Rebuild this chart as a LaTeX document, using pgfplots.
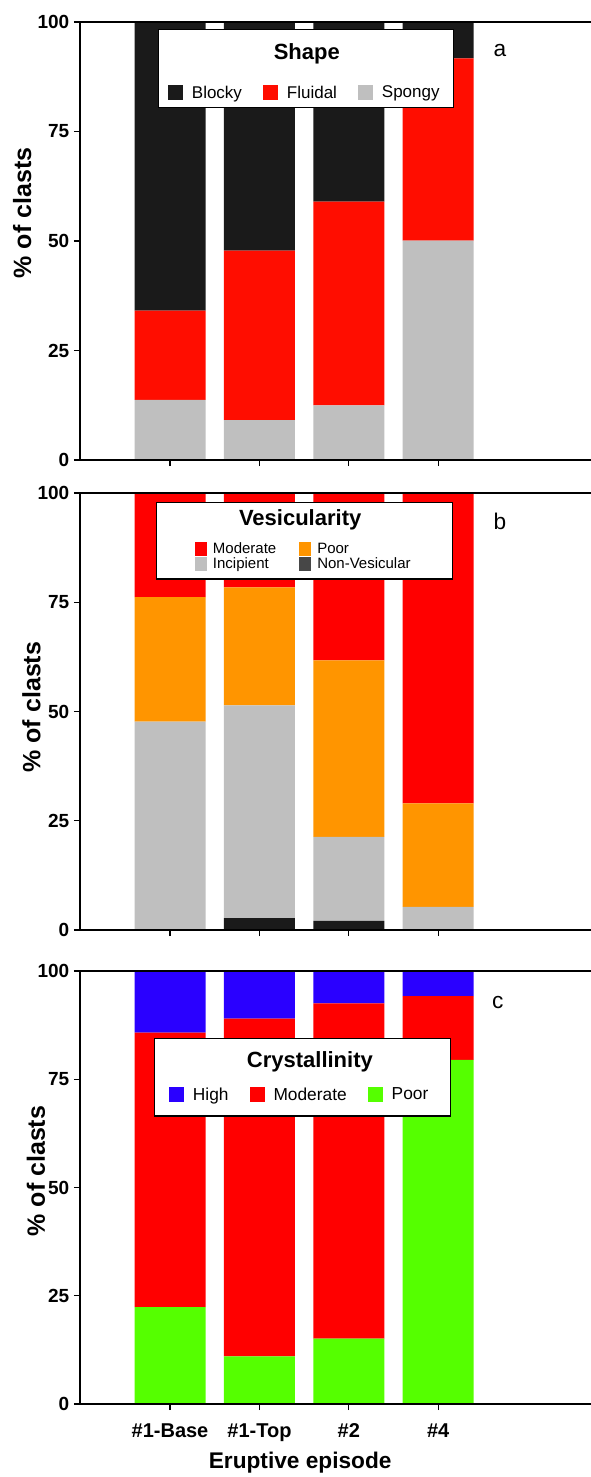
\documentclass[border=0pt]{standalone}
\usepackage{pgfplots}
\pgfplotsset{compat=1.18}
\usepackage{fontspec}
\setmainfont{Liberation Sans}
\definecolor{blocky}{HTML}{1A1A1A}
\definecolor{fluidal}{HTML}{FF0D00}
\definecolor{spongy}{HTML}{BFBFBF}
\definecolor{moder}{HTML}{FF0000}
\definecolor{poor}{HTML}{FF9500}
\definecolor{nonves}{HTML}{1A1A1A}
\definecolor{nonvesleg}{HTML}{474747}
\definecolor{high}{HTML}{2A00FF}
\definecolor{pgreen}{HTML}{55FF00}
\pgfplotsset{
  panel/.style={
    scale only axis, width=384pt,
    xmin=-0.007, xmax=5.72, ymin=0, ymax=100,
    ybar stacked, bar width=0.794, bar shift=0pt,
    xtick={1,2,3,4}, ytick={0,25,50,75,100},
    tick pos=left, tick align=outside, major tick length=4.5pt,
    axis line style={line width=0.8pt}, tick style={line width=0.8pt, black},
    /pgf/number format/assume math mode=true,
    yticklabel style={font=\bfseries\fontsize{14.25}{16}\selectfont},
    xticklabel style={font=\bfseries\fontsize{15}{17}\selectfont, yshift=-6.5pt},
    ylabel={\% of clasts},
    every axis plot/.append style={draw=none},
    axis on top,
  },
  over/.style={
    scale only axis, width=384pt, hide axis,
    xmin=0, xmax=1, ymin=0, ymax=1,
    clip=false,
    legend cell align=left,
  },
}
\begin{document}
\begin{tikzpicture}
\path[use as bounding box] (0,0) rectangle (442.5pt,-1107.75pt);
% ---------- Panel a
\begin{axis}[panel, height=328.5pt, at={(60pt,-345pt)}, anchor=south west,
  xticklabels={},
  ylabel style={at={(axis description cs:-0.113,0.564)}, anchor=center, font=\bfseries\fontsize{18.75}{20}\selectfont},
]
\addplot[fill=spongy] coordinates {(1,13.7) (2,9.1) (3,12.5) (4,50.1)};
\addplot[fill=fluidal] coordinates {(1,20.4) (2,38.7) (3,46.5) (4,41.6)};
\addplot[fill=blocky] coordinates {(1,65.9) (2,52.2) (3,41.0) (4,8.3)};
\end{axis}
\begin{axis}[over, height=328.5pt, at={(60pt,-345pt)}, anchor=south west,
  legend image code/.code={\fill[#1, draw=none] (0pt,-5.6pt) rectangle (11.25pt,5.6pt); \path (15.5pt,0pt);},
  legend style={at={(rel axis cs:0.44,0.838)}, anchor=center, draw=none, fill=none,
    font=\fontsize{12.75}{14}\selectfont, legend columns=3,
    /tikz/every even column/.append style={column sep=14pt}},
]
\draw[fill=white, line width=0.9pt] (rel axis cs:0.154,0.804) rectangle (rel axis cs:0.729,0.982);
\node[font=\bfseries\fontsize{16.5}{18}\selectfont] at (rel axis cs:0.443,0.927) {Shape};
\node[font=\fontsize{17}{19}\selectfont] at (rel axis cs:0.82,0.936) {a};
\addlegendimage{fill=blocky}\addlegendentry{Blocky}
\addlegendimage{fill=fluidal}\addlegendentry{Fluidal}
\addlegendimage{fill=spongy}\addlegendentry{Spongy}
\end{axis}
% ---------- Panel b
\begin{axis}[panel, height=327.75pt, at={(60pt,-697.5pt)}, anchor=south west,
  xticklabels={},
  ylabel style={at={(axis description cs:-0.095,0.51)}, anchor=center, font=\bfseries\fontsize{18.75}{20}\selectfont},
]
\addplot[fill=nonves] coordinates {(1,0) (2,2.7) (3,2.1) (4,0)};
\addplot[fill=spongy] coordinates {(1,47.7) (2,48.7) (3,19.2) (4,5.3)};
\addplot[fill=poor] coordinates {(1,28.5) (2,27.0) (3,40.4) (4,23.7)};
\addplot[fill=moder] coordinates {(1,23.8) (2,21.6) (3,38.3) (4,71.0)};
\end{axis}
\begin{axis}[over, height=327.75pt, at={(60pt,-697.5pt)}, anchor=south west,
  legend image code/.code={\fill[#1, draw=none] (0pt,-5.25pt) rectangle (9pt,5.25pt); \path (11.5pt,0pt);},
  legend style={at={(rel axis cs:0.4375,0.855)}, anchor=center, draw=none, fill=none,
    font=\fontsize{11.25}{12}\selectfont, legend columns=2, row sep=-2.5pt,
    /tikz/every even column/.append style={column sep=15pt}},
]
\draw[fill=white, line width=0.9pt] (rel axis cs:0.150,0.803) rectangle (rel axis cs:0.727,0.979);
\node[font=\bfseries\fontsize{16.5}{18}\selectfont] at (rel axis cs:0.430,0.938) {Vesicularity};
\node[font=\fontsize{17}{19}\selectfont] at (rel axis cs:0.82,0.934) {b};
\addlegendimage{fill=moder}\addlegendentry{Moderate}
\addlegendimage{fill=poor}\addlegendentry{Poor}
\addlegendimage{fill=spongy}\addlegendentry{Incipient}
\addlegendimage{fill=nonvesleg}\addlegendentry{Non-Vesicular}
\end{axis}
% ---------- Panel c
\begin{axis}[panel, height=324.75pt, at={(60pt,-1053pt)}, anchor=south west,
  xticklabels={\#1-Base,\#1-Top,\#2,\#4},
  xlabel={Eruptive episode},
  xlabel style={at={(axis description cs:0.43,-0.136)}, anchor=center, font=\bfseries\fontsize{17}{19}\selectfont},
  ylabel style={at={(axis description cs:-0.086,0.538)}, anchor=center, font=\bfseries\fontsize{18.75}{20}\selectfont},
]
\addplot[fill=pgreen] coordinates {(1,22.4) (2,11.0) (3,15.1) (4,79.5)};
\addplot[fill=moder] coordinates {(1,63.4) (2,78.0) (3,77.4) (4,14.7)};
\addplot[fill=high] coordinates {(1,14.2) (2,11.0) (3,7.5) (4,5.8)};
\end{axis}
\begin{axis}[over, height=324.75pt, at={(60pt,-1053pt)}, anchor=south west,
  legend image code/.code={\fill[#1, draw=none] (0pt,-5.6pt) rectangle (11.25pt,5.6pt); \path (15.5pt,0pt);},
  legend style={at={(rel axis cs:0.43,0.714)}, anchor=center, draw=none, fill=none,
    font=\fontsize{13}{15}\selectfont, legend columns=3,
    /tikz/every even column/.append style={column sep=14pt}},
]
\draw[fill=white, line width=0.9pt] (rel axis cs:0.145,0.665) rectangle (rel axis cs:0.723,0.845);
\node[font=\bfseries\fontsize{16.5}{18}\selectfont] at (rel axis cs:0.449,0.790) {Crystallinity};
\node[font=\fontsize{17}{19}\selectfont] at (rel axis cs:0.816,0.928) {c};
\addlegendimage{fill=high}\addlegendentry{High}
\addlegendimage{fill=moder}\addlegendentry{Moderate}
\addlegendimage{fill=pgreen}\addlegendentry{Poor}
\end{axis}
\end{tikzpicture}
\end{document}
